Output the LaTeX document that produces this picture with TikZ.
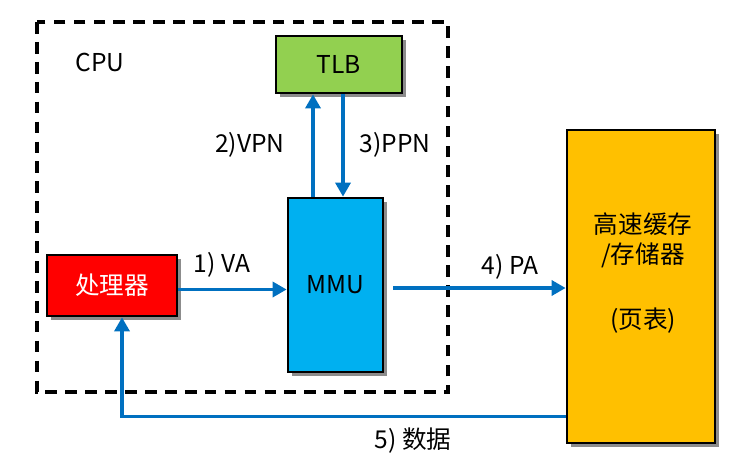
\documentclass[tikz,border=0pt]{standalone}
\usepackage{fontspec}
\setmainfont{Noto Sans CJK SC}
\usepackage{tikz}
\usetikzlibrary{arrows.meta,shadows,calc}

\definecolor{procred}{HTML}{FF0000}
\definecolor{tlbgreen}{HTML}{92D050}
\definecolor{mmucyan}{HTML}{00B0F0}
\definecolor{cacheorange}{HTML}{FFC000}
\definecolor{flowblue}{HTML}{0070C0}

\begin{document}
\begin{tikzpicture}[x=0.03cm, y=-0.03cm,
  font=\fontsize{21}{25.5}\selectfont,
  unit/.style={draw=black, line width=2.4pt, inner sep=0pt,
    drop shadow={shadow xshift=3.5pt, shadow yshift=-3.5pt, fill=black!45, opacity=1}},
  flow/.style={-{Triangle[length=12pt, width=13pt]}, draw=flowblue, line width=2.6pt}]
  \useasboundingbox (0,0) rectangle (756,473);

  % --- CPU 虚线框 ---
  \draw[line width=2.7pt, dash pattern=on 10pt off 7pt] (37,22) rectangle (448,392);
  \node (cpulbl) at (100,62) {CPU};

  % --- 各部件 ---
  \node[unit, fill=tlbgreen, minimum width=3.78cm, minimum height=1.71cm] (tlb) at (339,64.5) {TLB};
  \node[unit, fill=mmucyan, minimum width=2.85cm, minimum height=5.22cm] (mmu) at (335.5,285) {MMU};
  \node[unit, fill=procred, text=white, minimum width=3.9cm, minimum height=1.83cm] (proc) at (112,285.5) {处理器};
  \node[unit, fill=cacheorange, minimum width=4.44cm, minimum height=9.39cm] (cache) at (641,286.5) {};
  \node[align=center] (cachetxt) at (643,273) {高速缓存\\/存储器\\[1.05cm](页表)};

  % --- 地址与数据流 ---
  \draw[flow] ([xshift=-0.675cm]mmu.north) -- ([xshift=-0.675cm]mmu.north |- tlb.south);
  \draw[flow] ([xshift=0.12cm]tlb.south) -- ([xshift=0.12cm]tlb.south |- mmu.north);
  \draw[flow] ([yshift=-0.12cm]proc.east) -- ([yshift=-0.12cm]proc.east -| mmu.west);
  \draw[flow] ([xshift=0.27cm, yshift=-0.09cm]mmu.east) -- ([yshift=-0.09cm]mmu.east -| cache.west);
  \draw[flow] ([yshift=-3.9cm]cache.west) -| ([xshift=0.3cm]proc.south);

  % --- 标签 ---
  \node (vpnlbl) at (250,145) {2)VPN};
  \node (ppnlbl) at (395,145) {3)PPN};
  \node (valbl) at (222,265) {1) VA};
  \node (palbl) at (510,267) {4) PA};
  \node (datalbl) at (413,441) {5) 数据};
\end{tikzpicture}
\end{document}
